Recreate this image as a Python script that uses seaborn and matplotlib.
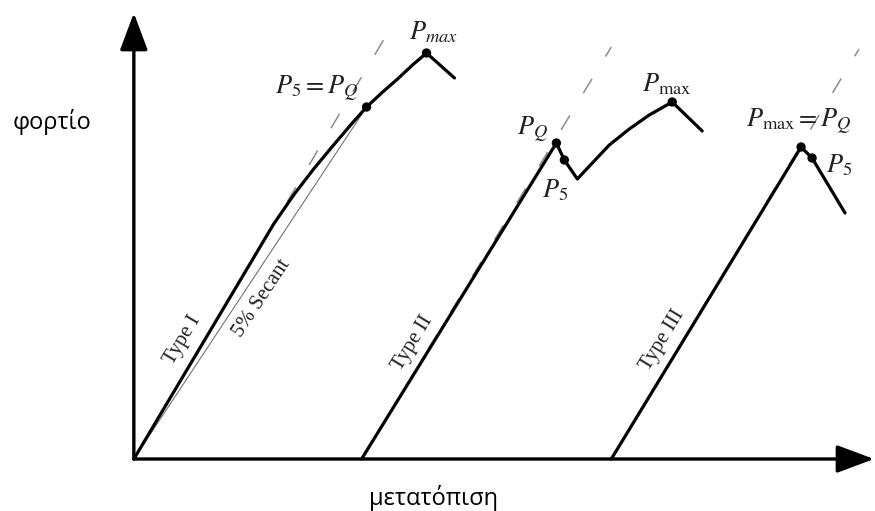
import matplotlib
matplotlib.use("Agg")
import matplotlib.pyplot as plt
import pandas as pd
import seaborn as sns

# Load-displacement records (displacement, load) for the three curve types
type1_disp = [0, 140, 160, 180, 200, 217, 233, 248, 264, 279, 293, 321]
type1_load = [0, 235, 264, 290, 314, 334, 352, 366, 380, 394, 406, 381]

type2_disp = [228, 423, 431, 444, 459, 476, 496, 516, 539, 569]
type2_load = [0, 316, 299, 280, 296, 314, 330, 344, 357, 328]

type3_disp = [478, 668, 679, 712]
type3_load = [0, 312, 301, 246]

# Initial-stiffness (dashed) lines: start and end of each
tangent_disp = [[0, 250], [228, 478], [478, 726]]
tangent_load = [[0, 419], [0, 412], [0, 410]]

# 5% secant of the Type I curve
secant_disp = [0, 233]
secant_load = [0, 352]

# Characteristic points (P_Q, P_5, P_max)
point_disp = [233, 293, 423, 431, 539, 668, 679]
point_load = [352, 406, 316, 299, 357, 312, 301]

# Point labels and where they sit
label_text = [r"$P_{max}$", r"$P_5 = P_Q$", r"$P_Q$", r"$P_5$",
              r"$P_{\mathrm{max}}$", r"$P_{\mathrm{max}} = P_Q$", r"$P_5$"]
label_disp = [300, 183, 399, 422, 534, 666, 706]
label_load = [427, 370, 329, 269, 375, 337, 294]

# Curve-type names written along the linear branches
type_text = ["Type I", "5% Secant", "Type II", "Type III"]
type_disp = [49, 128, 279, 529]
type_load = [119, 161, 116, 119]
type_angle = [59, 56.5, 58.5, 58.5]

sns.set_theme(style="white")
plt.rcParams["mathtext.fontset"] = "stix"
plt.rcParams["font.family"] = ["Liberation Serif", "DejaVu Serif"]

fig = plt.figure(figsize=(8.75, 5.11), dpi=100)
ax = fig.add_axes([0, 0, 1, 1])
ax.set_xlim(-134, 742)
ax.set_ylim(-52, 459)
ax.axis("off")

# dashed initial-stiffness lines
for xs, ys in zip(tangent_disp, tangent_load):
    ax.plot(xs, ys, color="0.55", lw=1.1, dashes=(11, 17), zorder=1)

# secant line
sns.lineplot(x=secant_disp, y=secant_load, ax=ax, color="0.45", lw=0.8,
             sort=False, estimator=None, zorder=2)

# the three load-displacement curves
curves = pd.concat([
    pd.DataFrame({"disp": type1_disp, "load": type1_load, "type": "I"}),
    pd.DataFrame({"disp": type2_disp, "load": type2_load, "type": "II"}),
    pd.DataFrame({"disp": type3_disp, "load": type3_load, "type": "III"}),
])
n_before = len(ax.get_lines())
sns.lineplot(data=curves, x="disp", y="load", units="type", ax=ax,
             color="black", lw=2.3, sort=False, estimator=None, zorder=3)
for ln in ax.get_lines()[n_before:]:
    ln.set_solid_joinstyle("round")
    ln.set_solid_capstyle("round")

sns.scatterplot(x=point_disp, y=point_load, ax=ax, color="black", s=45,
                edgecolor="none", zorder=4)

# axes with arrow heads
arrow = dict(arrowstyle="-|>,head_length=1.15,head_width=0.43",
             mutation_scale=20, lw=2.4, color="black",
             shrinkA=0, shrinkB=0)
ax.annotate("", xy=(741, 0), xytext=(0, 0), arrowprops=arrow, zorder=5)
ax.annotate("", xy=(0, 446), xytext=(0, 0), arrowprops=arrow, zorder=5)

for t, x, y in zip(label_text, label_disp, label_load):
    ax.text(x, y, t, fontsize=19, ha="center", va="center", color="#222222",
            zorder=6)

for t, x, y, a in zip(type_text, type_disp, type_load, type_angle):
    ax.text(x, y, t, fontsize=15, rotation=a, rotation_mode="anchor",
            ha="center", va="center", color="#222222", zorder=6)

ax.text(-82, 337, "φορτίο", fontsize=17, family=["Open Sans", "DejaVu Sans"],
        ha="center", va="center", color="black")
ax.text(300, -39, "μετατόπιση", fontsize=17, family=["Open Sans", "DejaVu Sans"],
        ha="center", va="center", color="black")

fig.savefig("out.png", dpi=100)
